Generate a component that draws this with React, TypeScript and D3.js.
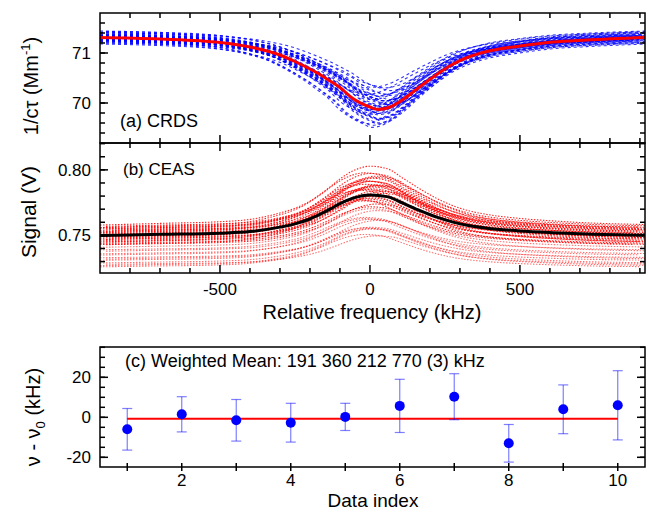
import React, { useEffect, useRef } from 'react';
import * as d3 from 'd3';

const W = 649;
const H = 512;
const FONT = '"Liberation Sans", Arial, sans-serif';

// (a) CRDS: red fitted curve (kHz, Mm^-1)
const crdsFreq = [-900, -700, -500, -400, -300, -250, -200, -167, -133, -100, -57, 0, 27, 67, 110, 167, 223, 277, 333, 390, 500, 610, 723, 917];
const crdsFit = [71.31, 71.28, 71.21, 71.12, 70.96, 70.83, 70.68, 70.57, 70.44, 70.31, 70.09, 69.92, 69.87, 69.92, 70.07, 70.33, 70.57, 70.78, 70.93, 71.03, 71.14, 71.22, 71.26, 71.31];
const crdsBase = 71.31;
// individual scans: offset from the fit, relative dip depth, frequency shift (kHz)
const crdsScanOffset = [-0.13, -0.11, -0.1, -0.09, -0.08, -0.07, -0.06, -0.06, -0.05, -0.04, -0.04, -0.03, -0.02, -0.02, -0.01, -0.01, 0, 0, 0.01, 0.01, 0.02, 0.02, 0.03, 0.03, 0.04, 0.04, 0.05, 0.05, 0.06, 0.07, 0.08, 0.09, 0.1, 0.11, 0.12, 0.13, -0.05, 0, 0.03, -0.02];
const crdsScanDepth = [1.05, 0.9, 1.15, 0.8, 1.0, 1.2, 0.95, 0.75, 1.1, 0.85, 1.0, 1.18, 0.92, 1.05, 0.78, 1.12, 1.0, 0.88, 1.08, 0.95, 1.2, 0.82, 1.02, 0.9, 1.15, 0.72, 1.0, 1.1, 0.86, 0.98, 1.06, 0.8, 1.12, 0.94, 1.0, 0.9, 1.16, 0.7, 1.04, 0.96];
const crdsScanShift = [0, 20, -20, 40, 0, -20, 20, -40, 0, 20, -20, 0, 40, -20, 20, 0, -40, 20, 0, -20, 0, 40, -20, 20, 0, -20, 20, -40, 0, 20, -20, 40, 0, -20, 20, 0, -40, 20, 0, -20];

// (b) CEAS: black fitted curve (kHz, V)
const ceasFreq = [-900, -700, -500, -400, -300, -250, -200, -167, -133, -100, -57, 0, 57, 110, 167, 223, 277, 333, 390, 500, 610, 723, 917];
const ceasFit = [0.7499, 0.7508, 0.7517, 0.7529, 0.7563, 0.7588, 0.7625, 0.766, 0.77, 0.7742, 0.7784, 0.7809, 0.7796, 0.7746, 0.7689, 0.7639, 0.7601, 0.7573, 0.7555, 0.7534, 0.7521, 0.7511, 0.7502];
const ceasBase = 0.75;
const ceasScanOffset = [0.008, 0.007, 0.006, 0.006, 0.005, 0.005, 0.004, 0.004, 0.003, 0.003, 0.002, 0.002, 0.001, 0.001, 0, 0, -0.001, -0.001, -0.002, -0.002, -0.003, -0.003, -0.004, -0.005, -0.005, -0.006, -0.007, -0.007, -0.009, -0.011, -0.012, -0.014, -0.015, -0.017, -0.018, -0.019, -0.021, -0.022, -0.023, -0.024];
const ceasScanDepth = [1.45, 1.2, 1.35, 1.0, 1.3, 1.1, 1.4, 0.95, 1.25, 1.15, 1.35, 1.05, 1.2, 1.3, 0.9, 1.15, 1.25, 1.0, 1.1, 1.4, 0.95, 1.2, 1.05, 1.3, 1.15, 0.9, 1.1, 1.0, 0.95, 0.8, 1.0, 0.85, 0.9, 0.75, 0.95, 0.8, 0.85, 0.7, 0.9, 0.8];
const ceasScanShift = [0, 20, -20, 0, 20, -20, 0, 40, -20, 20, 0, -40, 20, 0, -20, 0, 20, -20, 40, 0, -20, 20, 0, -20, 20, 0, -40, 20, 0, -20, 20, 0, -20, 0, 20, -20, 0, 20, 0, -20];

// (c) weighted mean per data index (kHz)
const dataIndex = [1, 2, 3, 4, 5, 6, 7, 8, 9, 10];
const deviation = [-6, 1.5, -1.5, -2.7, 0.2, 5.7, 10.3, -13, 4, 6];
const deviationErr = [10.4, 8.8, 10.4, 9.7, 6.8, 13.3, 11.5, 9.4, 12.2, 17.3];
const weightedMean = -0.7;

const freqTicks = [-500, 0, 500];
const crdsTicks = [70, 71];
const ceasTicks = [0.75, 0.8];
const devTicks = [-20, 0, 20];
const indexTicks = [2, 4, 6, 8, 10];

export default function App() {
  const ref = useRef<SVGSVGElement>(null);

  useEffect(() => {
    const svg = d3.select(ref.current);
    svg.selectAll('*').remove();

    const L = 100, R = 645;
    const x = d3.scaleLinear().domain([-900, 917]).range([L, R]);
    const yA = d3.scaleLinear().domain([69.2, 71.8]).range([143, 13]);
    const yB = d3.scaleLinear().domain([0.7213, 0.8205]).range([273, 143]);
    const xC = d3.scaleLinear().domain([0.5, 10.5]).range([L, R]);
    const yC = d3.scaleLinear().domain([-24.85, 35.15]).range([467, 347]);

    const defs = svg.append('defs');
    const clip = (id: string, y0: number, y1: number) => {
      defs.append('clipPath').attr('id', id).append('rect')
        .attr('x', L).attr('y', y0).attr('width', R - L).attr('height', y1 - y0);
    };
    clip('clipA', 13, 143);
    clip('clipB', 143, 273);

    const line = d3.line<[number, number]>().curve(d3.curveMonotoneX);

    // scans (a)
    const gA = svg.append('g').attr('clip-path', 'url(#clipA)');
    crdsScanOffset.forEach((off, i) => {
      const pts: [number, number][] = crdsFreq.map((f, j) => [
        x(f + crdsScanShift[i]),
        yA(crdsBase + off + crdsScanDepth[i] * (crdsFit[j] - crdsBase)),
      ]);
      gA.append('path').attr('d', line(pts))
        .attr('fill', 'none').attr('stroke', '#0000ff').attr('stroke-width', 1.1)
        .attr('stroke-opacity', 0.8).attr('stroke-dasharray', '3 3');
    });
    gA.append('path')
      .attr('d', line(crdsFreq.map((f, j) => [x(f), yA(crdsFit[j])] as [number, number])))
      .attr('fill', 'none').attr('stroke', '#ff0000').attr('stroke-width', 3);

    // scans (b)
    const gB = svg.append('g').attr('clip-path', 'url(#clipB)');
    ceasScanOffset.forEach((off, i) => {
      const pts: [number, number][] = ceasFreq.map((f, j) => [
        x(f + ceasScanShift[i]),
        yB(ceasBase + off + ceasScanDepth[i] * (ceasFit[j] - ceasBase)),
      ]);
      gB.append('path').attr('d', line(pts))
        .attr('fill', 'none').attr('stroke', '#ff0000').attr('stroke-width', 1.1)
        .attr('stroke-opacity', i < 28 ? 0.85 : 0.55).attr('stroke-dasharray', '1.5 1.5');
    });
    gB.append('path')
      .attr('d', line(ceasFreq.map((f, j) => [x(f), yB(ceasFit[j])] as [number, number])))
      .attr('fill', 'none').attr('stroke', '#000').attr('stroke-width', 3);

    // (c) red mean line, error bars, points
    const gC = svg.append('g');
    gC.append('line')
      .attr('x1', xC(1)).attr('x2', xC(10))
      .attr('y1', yC(weightedMean)).attr('y2', yC(weightedMean))
      .attr('stroke', '#ff0000').attr('stroke-width', 2);
    dataIndex.forEach((d, i) => {
      const cx = xC(d);
      const top = yC(deviation[i] + deviationErr[i]);
      const bot = yC(deviation[i] - deviationErr[i]);
      const eb = gC.append('g').attr('stroke', '#0000ff').attr('stroke-opacity', 0.5).attr('stroke-width', 1.2);
      eb.append('line').attr('x1', cx).attr('x2', cx).attr('y1', top).attr('y2', bot);
      eb.append('line').attr('x1', cx - 5).attr('x2', cx + 5).attr('y1', top).attr('y2', top);
      eb.append('line').attr('x1', cx - 5).attr('x2', cx + 5).attr('y1', bot).attr('y2', bot);
      gC.append('circle').attr('cx', cx).attr('cy', yC(deviation[i])).attr('r', 5).attr('fill', '#0000ff');
    });

    // frames and ticks
    const axes = svg.append('g').attr('stroke', '#000').attr('stroke-width', 1.5).attr('fill', 'none');
    const frame = (y0: number, y1: number) => {
      axes.append('rect').attr('x', L).attr('y', y0).attr('width', R - L).attr('height', y1 - y0);
    };
    frame(13, 143);
    frame(143, 273);
    frame(347, 467);

    const hTick = (yy: number, len: number) => {
      axes.append('line').attr('x1', L).attr('x2', L + len).attr('y1', yy).attr('y2', yy);
      axes.append('line').attr('x1', R).attr('x2', R - len).attr('y1', yy).attr('y2', yy);
    };
    const yTicks = (scale: d3.ScaleLinear<number, number>, majors: number[], minors: number[]) => {
      const [d0, d1] = scale.domain();
      minors.filter((v) => v > d0 && v < d1).forEach((v) => hTick(scale(v), 5));
      majors.forEach((v) => hTick(scale(v), 8));
    };
    yTicks(yA, crdsTicks, d3.range(0, 14).map((i) => 69.4 + i * 0.2));
    yTicks(yB, ceasTicks, d3.range(0, 10).map((i) => 0.73 + i * 0.01));
    yTicks(yC, devTicks, d3.range(0, 12).map((i) => -20 + i * 5));

    const xMinor = d3.range(-9, 10).map((i) => i * 100);
    const vTick = (xx: number, yy: number, len: number) => {
      axes.append('line').attr('x1', xx).attr('x2', xx).attr('y1', yy).attr('y2', yy + len);
    };
    [13, 143].forEach((yy) => {
      xMinor.forEach((v) => { if (x(v) > L + 1) vTick(x(v), yy, freqTicks.includes(v) ? 8 : 5); });
    });
    [143, 273].forEach((yy) => {
      xMinor.forEach((v) => { if (x(v) > L + 1) vTick(x(v), yy, freqTicks.includes(v) ? -8 : -5); });
    });
    dataIndex.forEach((d) => vTick(xC(d), 463, 8));

    // tick labels
    const txt = svg.append('g').attr('font-family', FONT).attr('fill', '#000');
    const label = (s: string, tx: number, ty: number, size: number, anchor = 'middle') =>
      txt.append('text').attr('x', tx).attr('y', ty).attr('font-size', size).attr('text-anchor', anchor).text(s);

    crdsTicks.forEach((v) => label(String(v), 91, yA(v) + 6, 17, 'end'));
    ceasTicks.forEach((v) => label(v.toFixed(2), 91, yB(v) + 6, 17, 'end'));
    devTicks.forEach((v) => label(String(v), 91, yC(v) + 6, 17, 'end'));
    freqTicks.forEach((v) => label(String(v), x(v), 295, 17));
    indexTicks.forEach((v) => label(String(v), xC(v), 486, 17));

    label('(a) CRDS', 120, 127, 18, 'start');
    label('(b) CEAS', 123, 175, 17, 'start');
    label('(c) Weighted Mean: 191 360 212 770 (3) kHz', 125, 367, 18, 'start');
    label('Relative frequency (kHz)', 372, 319, 20);
    label('Data index', 373, 507, 19);

    const yLabelA = txt.append('text').attr('transform', 'translate(38,86) rotate(-90)')
      .attr('font-size', 20).attr('text-anchor', 'middle');
    yLabelA.append('tspan').text('1/c\u03c4 (Mm');
    yLabelA.append('tspan').attr('font-size', 13).attr('dy', -8).text('-1');
    yLabelA.append('tspan').attr('dy', 8).text(')');

    txt.append('text').attr('transform', 'translate(36,212) rotate(-90)')
      .attr('font-size', 21).attr('text-anchor', 'middle').text('Signal (V)');

    const yLabelC = txt.append('text').attr('transform', 'translate(40,417) rotate(-90)')
      .attr('font-size', 20).attr('text-anchor', 'middle');
    yLabelC.append('tspan').text('\u03bd - \u03bd');
    yLabelC.append('tspan').attr('font-size', 13).attr('dy', 5).text('0');
    yLabelC.append('tspan').attr('dy', -5).text(' (kHz)');
  }, []);

  return (
    <svg ref={ref} width={W} height={H}
      style={{ position: 'absolute', left: 0, top: 0, background: '#fff' }} />
  );
}
